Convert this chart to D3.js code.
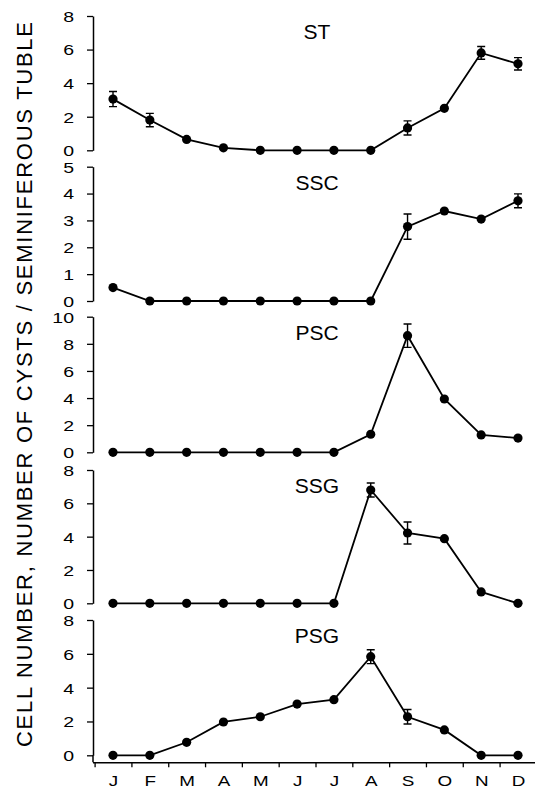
<!DOCTYPE html>
<html>
<head>
<meta charset="utf-8">
<script src="https://cdn.jsdelivr.net/npm/d3@7"></script>
<style>
  body { margin: 0; background: #fff; }
  svg { display: block; }
  text { font-family: "Liberation Sans", Arial, sans-serif; fill: #000; }
</style>
</head>
<body>
<svg width="535" height="789"></svg>
<script>
// months on the x axis
var months = ["J", "F", "M", "A", "M", "J", "J", "A", "S", "O", "N", "D"];

// panel names, y maximum and tick step
var panelNames = ["ST", "SSC", "PSC", "SSG", "PSG"];
var yMaxes = [8, 5, 10, 8, 8];
var yTickSteps = [2, 1, 2, 2, 2];

// monthly means and standard errors
var stValues = [3.05, 1.8, 0.65, 0.15, 0, 0, 0, 0, 1.33, 2.5, 5.8, 5.15];
var stErrors = [0.45, 0.4, 0, 0, 0, 0, 0, 0, 0.42, 0, 0.38, 0.37];
var sscValues = [0.5, 0, 0, 0, 0, 0, 0, 0, 2.77, 3.35, 3.05, 3.73];
var sscErrors = [0, 0, 0, 0, 0, 0, 0, 0, 0.47, 0, 0, 0.26];
var pscValues = [0, 0, 0, 0, 0, 0, 0, 1.33, 8.6, 3.93, 1.28, 1.05];
var pscErrors = [0, 0, 0, 0, 0, 0, 0, 0, 0.86, 0, 0, 0];
var ssgValues = [0, 0, 0, 0, 0, 0, 0, 6.8, 4.22, 3.88, 0.68, 0];
var ssgErrors = [0, 0, 0, 0, 0, 0, 0, 0.42, 0.66, 0, 0, 0];
var psgValues = [0, 0, 0.77, 1.97, 2.28, 3.03, 3.29, 5.83, 2.28, 1.5, 0, 0];
var psgErrors = [0, 0, 0, 0, 0, 0, 0, 0.41, 0.43, 0, 0, 0];

var allValues = [stValues, sscValues, pscValues, ssgValues, psgValues];
var allErrors = [stErrors, sscErrors, pscErrors, ssgErrors, psgErrors];

// layout
var axisX = 93;
var panelTop = [16, 166.7, 316.7, 470, 620];
var panelBottom = [150.3, 301, 452.3, 603.3, 755.3];
var xAxisY = 762.3;

var svg = d3.select("svg");

// x scale: month i sits in the middle of its slot
var xScale = d3.scaleLinear().domain([-0.5, 11.5]).range([94.6, 536.4]);

for (let p = 0; p < panelNames.length; p++) {
  var yScale = d3.scaleLinear()
    .domain([0, yMaxes[p]])
    .range([panelBottom[p], panelTop[p]]);

  var yAxis = d3.axisLeft(yScale)
    .tickValues(d3.range(0, yMaxes[p] + 0.01, yTickSteps[p]))
    .tickSize(6)
    .tickSizeOuter(0)
    .tickFormat(d3.format("d"));

  var g = svg.append("g")
    .attr("class", "axis")
    .attr("transform", `translate(${axisX},0)`)
    .call(yAxis);

  g.select(".domain").attr("stroke-width", 1.5);
  g.selectAll(".tick line").attr("stroke-width", 1.3);
  g.selectAll(".tick text")
    .attr("x", 0)
    .attr("dy", "0.36em")
    .attr("transform", "translate(-19,0) scale(1.3,1)")
    .style("font-size", "15px");

  // the bottom panel's axis runs down to the month axis
  if (p == panelNames.length - 1) {
    svg.append("line")
      .attr("x1", axisX).attr("x2", axisX)
      .attr("y1", panelBottom[p]).attr("y2", xAxisY)
      .attr("stroke", "#000").attr("stroke-width", 1.5);
  }

  var rows = allValues[p].map((v, i) => ({ i: i, v: v, e: allErrors[p][i] }));

  // connecting line
  svg.append("path")
    .datum(rows)
    .attr("fill", "none")
    .attr("stroke", "#000")
    .attr("stroke-width", 1.8)
    .attr("d", d3.line().x((d) => xScale(d.i)).y((d) => yScale(d.v)));

  // error bars
  var bars = rows.filter((d) => d.e > 0);
  svg.selectAll(null)
    .data(bars)
    .enter()
    .append("path")
    .attr("fill", "none")
    .attr("stroke", "#000")
    .attr("stroke-width", 1.4)
    .attr("d", function (d) {
      var x = xScale(d.i), y1 = yScale(d.v + d.e), y2 = yScale(d.v - d.e);
      return `M${x - 4},${y1}H${x + 4}M${x},${y1}V${y2}M${x - 4},${y2}H${x + 4}`;
    });

  // points
  svg.selectAll(null)
    .data(rows)
    .enter()
    .append("circle")
    .attr("r", 4.6)
    .attr("cx", (d) => xScale(d.i))
    .attr("cy", (d) => yScale(d.v))
    .style("fill", "#000");

  // panel title
  svg.append("text")
    .attr("x", 317)
    .attr("y", panelTop[p] + 23)
    .attr("text-anchor", "middle")
    .style("font-size", "21px")
    .text(panelNames[p]);
}

// month axis: ticks between months, labels under each month
var xTicks = d3.axisBottom(xScale)
  .tickValues(d3.range(-0.5, 12, 1))
  .tickSize(5)
  .tickSizeOuter(0)
  .tickFormat("");

var xg = svg.append("g")
  .attr("class", "axis")
  .attr("transform", `translate(0,${xAxisY})`)
  .call(xTicks);
xg.select(".domain").attr("stroke-width", 1.5).attr("d", `M${axisX},0.5H536`);
xg.selectAll(".tick line").attr("stroke-width", 1.3);

var xLabels = d3.axisBottom(xScale)
  .tickValues(d3.range(12))
  .tickSize(0)
  .tickFormat((i) => months[i]);

var xl = svg.append("g")
  .attr("transform", `translate(0,${xAxisY})`)
  .call(xLabels);
xl.select(".domain").remove();
xl.selectAll(".tick text")
  .attr("y", 23.4)
  .attr("dy", 0)
  .attr("transform", "scale(1.3,1)")
  .style("font-size", "14.5px");

// axis title
svg.append("text")
  .attr("transform", "rotate(-90)")
  .attr("x", -384.5)
  .attr("y", 32)
  .attr("text-anchor", "middle")
  .attr("textLength", 725)
  .attr("lengthAdjust", "spacing")
  .style("font-size", "22px")
  .text("CELL NUMBER, NUMBER OF CYSTS / SEMINIFEROUS TUBLE");
</script>
</body>
</html>
